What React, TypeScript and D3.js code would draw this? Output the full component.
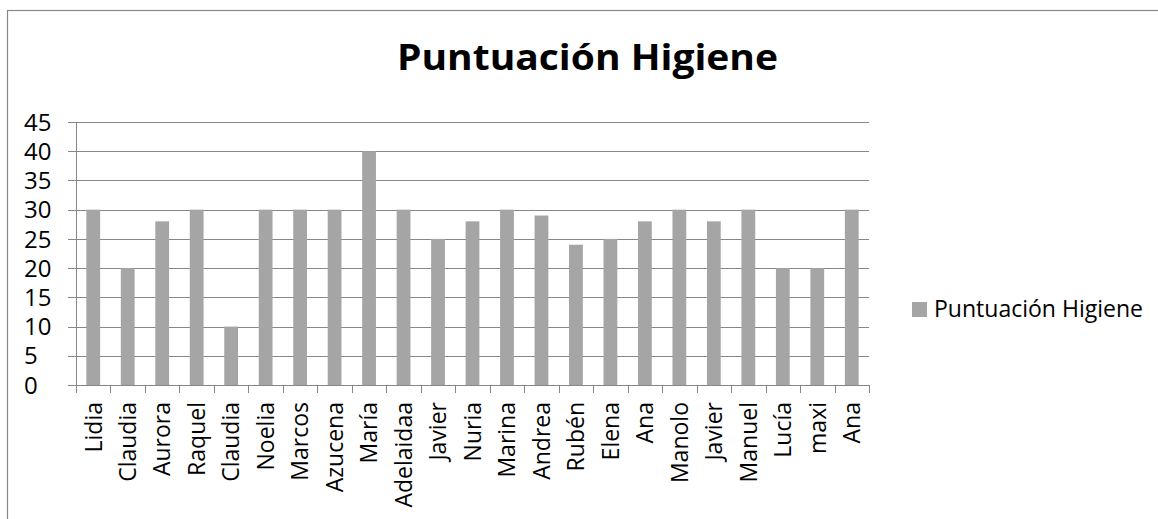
import React from "react";
import * as d3 from "d3";

const categories = [
  "Lidia", "Claudia", "Aurora", "Raquel", "Claudia", "Noelia", "Marcos", "Azucena",
  "María", "Adelaidaa", "Javier", "Nuria", "Marina", "Andrea", "Rubén", "Elena",
  "Ana", "Manolo", "Javier", "Manuel", "Lucía", "maxi", "Ana",
];
const values = [30, 20, 28, 30, 10, 30, 30, 30, 40, 30, 25, 28, 30, 29, 24, 25, 28, 30, 28, 30, 20, 20, 30];
const yTicks = [0, 5, 10, 15, 20, 25, 30, 35, 40, 45];
const title = "Puntuación Higiene";
const seriesName = "Puntuación Higiene";

const W = 1158;
const H = 519;
const FONT = "'Open Sans', 'DejaVu Sans', sans-serif";
const GRID = "#878787";
const BAR = "#a5a5a5";

export default function App() {
  const left = 76;
  const right = 869;
  const top = 122;
  const bottom = 385;

  const x = d3.scaleBand<number>().domain(d3.range(categories.length)).range([left, right]).paddingInner(0).paddingOuter(0);
  const y = d3.scaleLinear().domain([0, 45]).range([bottom, top]);
  const bw = x.bandwidth();
  const barW = bw / 2.5;

  const boundaries = d3.range(categories.length + 1).map((i) => left + i * bw);

  return (
    <svg width={W} height={H} style={{ position: "absolute", left: 0, top: 0, display: "block", background: "#fff" }}>
      <rect x={7.5} y={10.5} width={1170} height={530} fill="#fff" stroke={GRID} strokeWidth={1.2} />
      <text x={587.5} y={70} textAnchor="middle" fontFamily={FONT} fontWeight="bold" fontSize={35} fill="#000" textLength={381} lengthAdjust="spacingAndGlyphs">
        {title}
      </text>
      {yTicks.map((t) => (
        <g key={t}>
          <line x1={68} x2={right} y1={Math.round(y(t)) + 0.5} y2={Math.round(y(t)) + 0.5} stroke={GRID} strokeWidth={1} />
          <text x={24} y={y(t)} dy="0.36em" fontFamily={FONT} fontSize={24} fill="#000">
            {t}
          </text>
        </g>
      ))}
      <line x1={left + 0.5} x2={left + 0.5} y1={top} y2={bottom} stroke={GRID} strokeWidth={1} />
      {values.map((v, i) => (
        <rect key={i} x={(x(i) as number) + (bw - barW) / 2} y={y(v)} width={barW} height={bottom - y(v)} fill={BAR} />
      ))}
      <line x1={left} x2={right} y1={bottom + 0.5} y2={bottom + 0.5} stroke={GRID} strokeWidth={1} />
      {boundaries.map((bx, i) => (
        <line key={i} x1={Math.round(bx) + 0.5} x2={Math.round(bx) + 0.5} y1={bottom} y2={bottom + 8} stroke={GRID} strokeWidth={1} />
      ))}
      {categories.map((c, i) => {
        const cx = (x(i) as number) + bw / 2;
        const ty = bottom + 17;
        return (
          <text key={i} transform={`translate(${cx},${ty}) rotate(-90)`} textAnchor="end" dy="0.36em" fontFamily={FONT} fontSize={23} fill="#000">
            {c}
          </text>
        );
      })}
      <rect x={912} y={302} width={15} height={15} fill={BAR} />
      <text x={934} y={317} fontFamily={FONT} fontSize={23} fill="#000" textLength={209} lengthAdjust="spacingAndGlyphs">
        {seriesName}
      </text>
    </svg>
  );
}
